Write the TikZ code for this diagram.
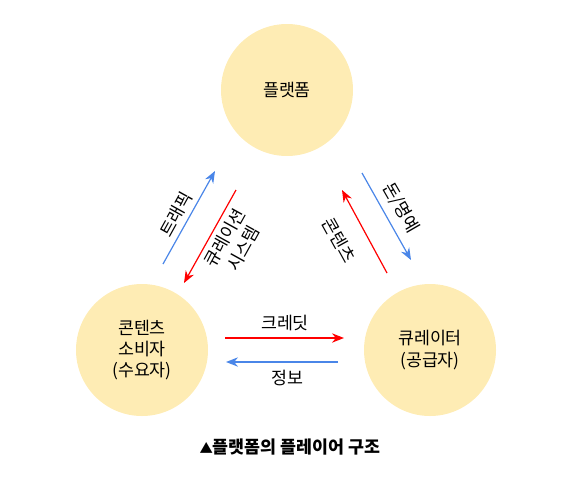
\documentclass[tikz,border=0pt]{standalone}
\usepackage{fontspec}
\setmainfont{Noto Sans CJK KR}
\usepackage{tikz}
\usetikzlibrary{arrows.meta}
\definecolor{player}{HTML}{FEECB4}
\definecolor{flowblue}{HTML}{4A86E8}
\definecolor{flowred}{HTML}{FF0000}
\tikzset{
  every picture/.style={line join=round, >={Stealth[length=9pt,width=7pt]}},
  player/.style={circle, fill=player, minimum size=99pt, inner sep=0pt, align=center,
    font=\fontsize{13pt}{16pt}\selectfont},
  flow/.style={line width=0.9pt},
  flowlabel/.style={align=center, inner sep=0pt, font=\fontsize{13pt}{16pt}\selectfont},
}

\begin{document}
\begin{tikzpicture}[x=0.75pt,y=-0.75pt]
\useasboundingbox (0,0) rectangle (567,486);
% players
\node[player] (plat) at (287.000,90.000) {플랫폼};
\node[player] (cons) at (142.000,350.000) {콘텐츠\\소비자\\(수요자)};
\node[player] (cura) at (430.000,350.000) {큐레이터\\(공급자)};
% flow end points
\coordinate (tfA) at (163.000,264.000);
\coordinate (tfB) at (215.000,171.000);
\coordinate (csA) at (236.000,190.000);
\coordinate (csB) at (184.000,283.000);
\coordinate (ctA) at (387.000,273.000);
\coordinate (ctB) at (342.000,190.000);
\coordinate (mnA) at (362.000,173.000);
\coordinate (mnB) at (411.000,260.000);
\coordinate (crA) at (225.000,338.000);
\coordinate (crB) at (344.000,338.000);
\coordinate (ifA) at (338.000,362.000);
\coordinate (ifB) at (226.000,362.000);
% flows
\draw[flow,flowblue,->] (tfA) -- (tfB);
\draw[flow,flowred,->] (csA) -- (csB);
\draw[flow,flowred,->] (ctA) -- (ctB);
\draw[flow,flowblue,->] (mnA) -- (mnB);
\draw[flow,flowred,->] (crA) -- (crB);
\draw[flow,flowblue,->] (ifA) -- (ifB);
% labels
\node[flowlabel,rotate=61] (tfL) at (176.000,214.000) {트래픽};
\node[flowlabel,rotate=61] (csL) at (234.000,243.000) {큐레이션\\시스템};
\node[flowlabel,rotate=-61] (ctL) at (339.000,240.000) {콘텐츠};
\node[flowlabel,rotate=-60] (mnL) at (401.000,208.000) {돈/명예};
\node[flowlabel] (crL) at (285.000,323.000) {크레딧};
\node[flowlabel] (ifL) at (287.000,378.000) {정보};
\node[font=\fontsize{13pt}{16pt}\selectfont\bfseries] (cap) at (290.000,447.000) {{\fontsize{10pt}{16pt}\selectfont ▲}플랫폼의 플레이어 구조};
\end{tikzpicture}
\end{document}
